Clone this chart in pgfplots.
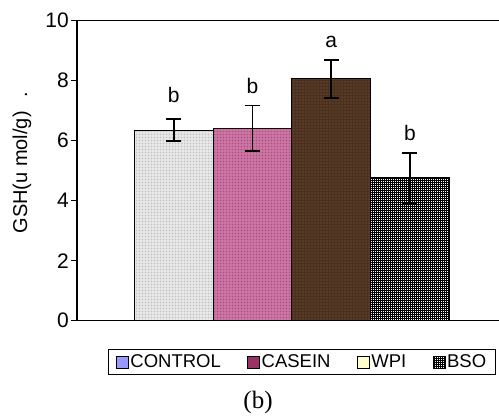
\documentclass[border=0pt]{standalone}
\usepackage{pgfplots}
\pgfplotsset{compat=1.18}
\usetikzlibrary{patterns,patterns.meta}
\usepackage{fontspec}
\setmainfont{Liberation Sans}
\newfontfamily\seriffont{Liberation Serif}
\definecolor{ctrl}{HTML}{9999FF}
\definecolor{cas}{HTML}{993366}
\definecolor{wpi}{HTML}{FFFFCC}
\definecolor{barA}{HTML}{EFEFEF}
\definecolor{barB}{HTML}{D27CAA}
\definecolor{barBd}{HTML}{963A6C}
\definecolor{barC}{HTML}{4B301F}
\definecolor{barCl}{HTML}{80603F}
\begin{document}
\begin{tikzpicture}
\begin{axis}[
 scale only axis, width=422pt, height=300pt,
 xmin=-1.23, xmax=4.132, ymin=0, ymax=10,
 axis x line*=bottom, axis y line*=left,
 x axis line style={-, line width=1pt},
 y axis line style={-, line width=1.5pt},
 xtick=\empty, ytick={0,2,4,6,8,10},
 tick align=outside, major tick length=6pt,
 ytick style={line width=1.2pt, black},
 /pgf/number format/assume math mode=true,
 yticklabel style={font=\fontsize{21}{24}\selectfont, inner sep=2pt},
 ylabel={GSH(u mol/g)\hspace{14pt}.},
 ylabel style={font=\fontsize{20}{23}\selectfont, at={(axis description cs:-0.1303,0.527)}, anchor=center},
 clip=false,
 legend columns=4,
 legend style={at={(0.533,-0.138)}, anchor=center, draw=black, line width=1.2pt,
   font=\fontsize{18.5}{21}\selectfont, inner xsep=8pt, inner ysep=3.5pt,
   nodes={inner sep=1.5pt},
   /tikz/every even column/.append style={column sep=25pt}},
 legend image code/.code={\draw[#1, line width=0.8pt] (0pt,-6pt) rectangle (12pt,6pt);},
 error bars/y dir=both, error bars/y explicit,
 error bars/error bar style={line width=1.8pt, black},
 error bars/error mark options={rotate=90, mark size=7.5pt, line width=1.8pt, black},
]
\addlegendimage{fill=ctrl, draw=black}
\addlegendentry{CONTROL}
\addlegendimage{fill=cas, draw=black}
\addlegendentry{CASEIN}
\addlegendimage{fill=wpi, draw=black}
\addlegendentry{WPI}
\addlegendimage{draw=black, pattern={Hatch[angle=0,distance=2pt,line width=0.5pt]}}
\addlegendentry{BSO}

\addplot[ybar, bar width=1, bar shift=0pt, draw=black, line width=1.2pt, fill=barA,
  postaction={pattern color=gray!70, pattern={Dots[distance=1.5pt,radius=0.3pt]}}, forget plot]
  coordinates {(0,6.35) +- (0,0.37)};
\addplot[ybar, bar width=1, bar shift=0pt, draw=black, line width=1.2pt, fill=barB,
  postaction={pattern color=barBd, pattern={Dots[distance=1.5pt,radius=0.45pt]}}, forget plot]
  coordinates {(1,6.41) +- (0,0.76)};
\addplot[ybar, bar width=1, bar shift=0pt, draw=black, line width=1.2pt, fill=barC,
  postaction={pattern color=barCl, pattern={Dots[distance=3pt,radius=0.6pt]}}, forget plot]
  coordinates {(2,8.06) +- (0,0.64)};
\addplot[ybar, bar width=1, bar shift=0pt, draw=black, line width=1.2pt, fill=white,
  postaction={pattern color=black, pattern={Hatch[angle=0,distance=2pt,line width=0.45pt]}}, forget plot]
  coordinates {(3,4.76) +- (0,0.83)};

\node[font=\fontsize{21}{25}\selectfont] at (axis cs:0,7.52) {b};
\node[font=\fontsize{21}{25}\selectfont] at (axis cs:1,7.83) {b};
\node[font=\fontsize{21}{25}\selectfont] at (axis cs:2,9.30) {a};
\node[font=\fontsize{21}{25}\selectfont] at (axis cs:3,6.25) {b};

\draw[line width=1.5pt] (rel axis cs:0,1) -- (rel axis cs:1,1);
\node[font=\seriffont\fontsize{25}{30}\selectfont] at (rel axis cs:0.429,-0.272) {(b)};
\coordinate (SW) at (rel axis cs:0,0);
\end{axis}
\pgfresetboundingbox
\path (SW) ++(-77pt,-97.3pt) rectangle ++(499pt,418pt);
\end{tikzpicture}
\end{document}
